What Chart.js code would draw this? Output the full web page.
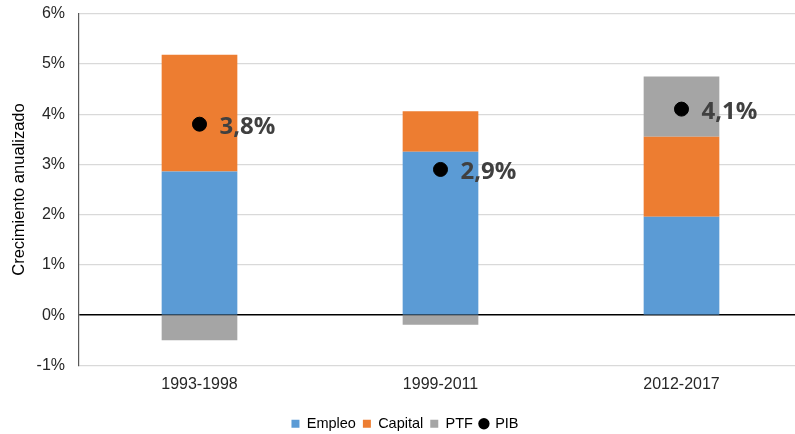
<!DOCTYPE html>
<html>
<head>
<meta charset="utf-8">
<title>Crecimiento anualizado</title>
<script src="https://cdn.jsdelivr.net/npm/chart.js@4"></script>
<style>
    html, body { margin: 0; padding: 0; background: #fff; overflow: hidden; }
    #wrap { position: absolute; left: 0; top: -10px; width: 810px; height: 451px; }
</style>
</head>
<body>
<div id="wrap"><canvas id="chart"></canvas></div>
<script>

    const periods = ['1993-1998', '1999-2011', '2012-2017']
    const empleo = [2.86, 3.25, 1.96]
    const capital = [2.32, 0.81, 1.59]
    const ptf = [-0.50, -0.19, 1.20]
    const pib = [3.8, 2.9, 4.1]
    const yTicks = [-1, 0, 1, 2, 3, 4, 5, 6]

    const grey = '#404040'
    const dark = '#262626'

    // writes the PIB value next to each dot
    const pibLabels = {
        id: 'pibLabels',
        afterDatasetsDraw(chart) {
            const idx = chart.data.datasets.findIndex(d => d.label === 'PIB')
            const meta = chart.getDatasetMeta(idx)
            const c = chart.ctx
            c.save()
            c.font = 'bold 24px "Open Sans"'
            c.fillStyle = grey
            c.textBaseline = 'middle'
            meta.data.forEach((pt, i) => {
                c.fillText(pib[i].toFixed(1).replace('.', ',') + '%', pt.x + 20, pt.y + 3)
            })
            c.restore()
        }
    }

    new Chart(document.getElementById('chart'), {
        data: {
            labels: periods,
            datasets: [
                { type: 'bar', label: 'Empleo', data: empleo, backgroundColor: '#5b9bd5', stack: 'g', order: 1 },
                { type: 'bar', label: 'Capital', data: capital, backgroundColor: '#ed7d31', stack: 'g', order: 1 },
                { type: 'bar', label: 'PTF', data: ptf, backgroundColor: '#a5a5a5', stack: 'g', order: 1 },
                {
                    type: 'line', label: 'PIB', data: pib, stack: 'pib', order: 0,
                    showLine: false, pointRadius: 7, pointHoverRadius: 7,
                    backgroundColor: '#000', borderColor: '#000', pointStyle: 'circle'
                }
            ]
        },
        options: {
            responsive: true,
            maintainAspectRatio: false,
            animation: false,
            layout: { padding: { top: 0, right: 0, left: 0, bottom: 0 } },
            datasets: {
                bar: { barPercentage: 1, categoryPercentage: 0.314 }
            },
            scales: {
                x: {
                    stacked: true,
                    grid: { display: false, drawTicks: false },
                    border: { display: false },
                    afterFit: s => { s.height = 44 },
                    ticks: { color: dark, font: { family: 'Liberation Sans', size: 16 }, padding: 9 }
                },
                y: {
                    stacked: true,
                    min: -1,
                    max: 6,
                    afterBuildTicks: s => { s.ticks = yTicks.map(v => ({ value: v })) },
                    afterFit: s => { s.width = 79 },
                    grid: {
                        color: ctx => ctx.tick && ctx.tick.value === 0 ? '#000' : '#d9d9d9',
                        lineWidth: ctx => ctx.tick && ctx.tick.value === 0 ? 1.5 : 1.2,
                        drawTicks: false
                    },
                    border: { display: true, color: '#595959', width: 1.2 },
                    ticks: {
                        color: dark,
                        font: { family: 'Liberation Sans', size: 16 },
                        padding: 14,
                        callback: v => v + '%'
                    },
                    title: {
                        display: true,
                        text: 'Crecimiento anualizado',
                        color: '#000',
                        font: { family: 'Liberation Sans', size: 16.5 },
                        padding: { top: 10, bottom: 0 }
                    }
                }
            },
            plugins: {
                legend: {
                    position: 'bottom',
                    labels: {
                        color: '#000',
                        font: { family: 'Liberation Sans', size: 14.5 },
                        usePointStyle: true,
                        boxWidth: 8,
                        boxHeight: 8,
                        padding: 7,
                        generateLabels: chart => chart.data.datasets.map((d, i) => ({
                            text: d.label,
                            fillStyle: d.backgroundColor,
                            strokeStyle: d.backgroundColor,
                            lineWidth: 0,
                            pointStyle: d.type === 'line' ? 'circle' : 'rect',
                            datasetIndex: i,
                            fontColor: '#000'
                        }))
                    }
                },
                tooltip: { enabled: false }
            }
        },
        plugins: [pibLabels]
    })

</script>
</body>
</html>
